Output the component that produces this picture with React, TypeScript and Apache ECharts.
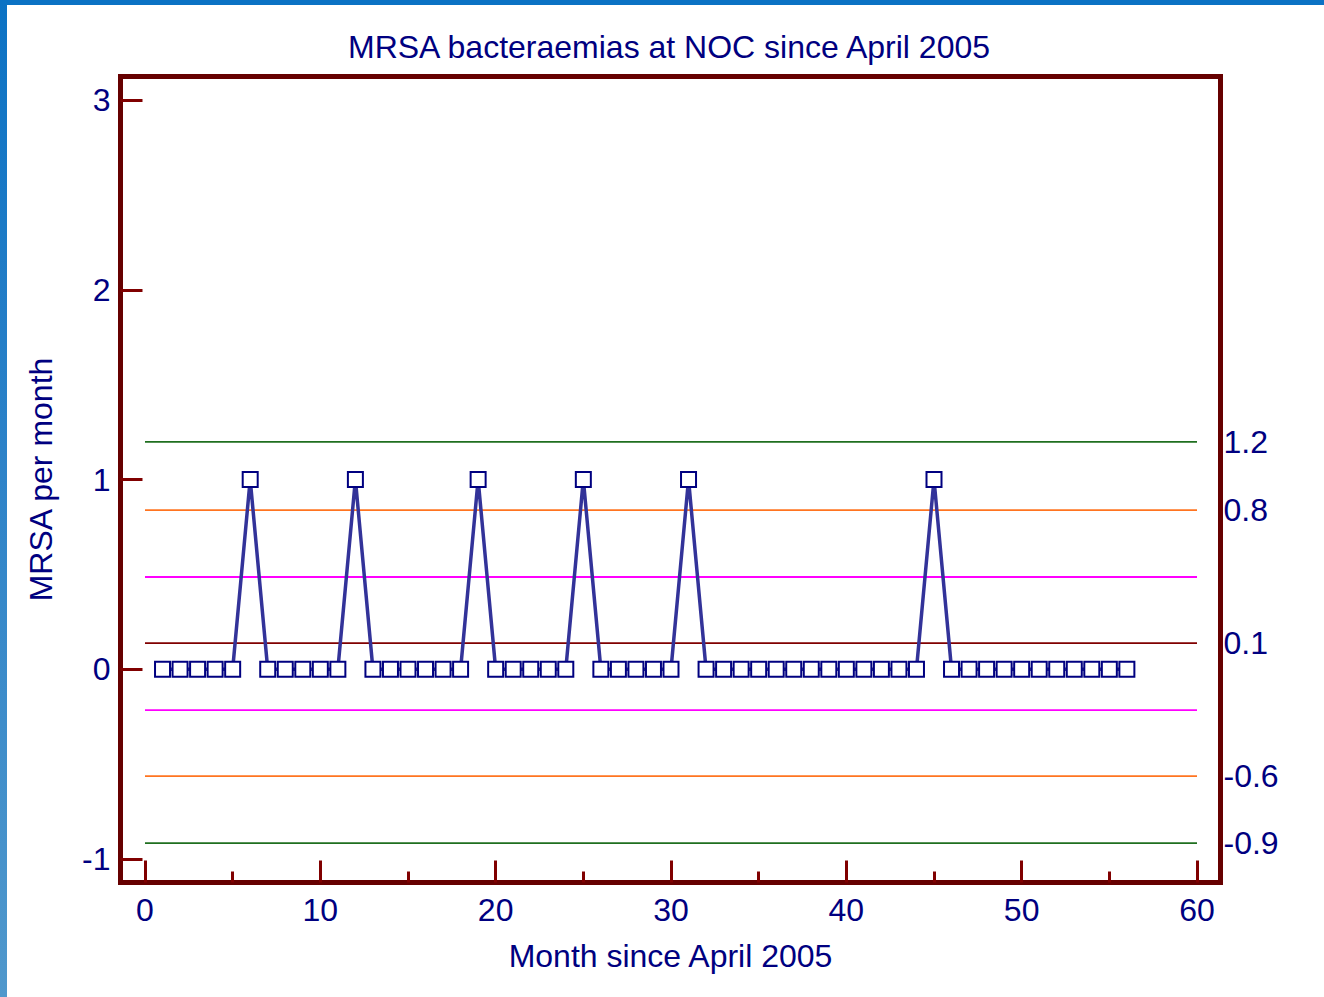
import React, { useEffect, useRef } from "react";
import * as echarts from "echarts";

const months = [
  1, 2, 3, 4, 5, 6, 7, 8, 9, 10, 11, 12, 13, 14, 15, 16, 17, 18, 19, 20,
  21, 22, 23, 24, 25, 26, 27, 28, 29, 30, 31, 32, 33, 34, 35, 36, 37, 38, 39, 40,
  41, 42, 43, 44, 45, 46, 47, 48, 49, 50, 51, 52, 53, 54, 55, 56,
];
const mrsaPerMonth = [
  0, 0, 0, 0, 0, 1, 0, 0, 0, 0, 0, 1, 0, 0, 0, 0, 0, 0, 1, 0,
  0, 0, 0, 0, 1, 0, 0, 0, 0, 0, 1, 0, 0, 0, 0, 0, 0, 0, 0, 0,
  0, 0, 0, 0, 1, 0, 0, 0, 0, 0, 0, 0, 0, 0, 0, 0,
];
const limitNames = ["UCL", "+2SD", "+1SD", "Mean", "-1SD", "-2SD", "LCL"];
const limitValues = [1.198, 0.839, 0.486, 0.138, -0.215, -0.563, -0.916];
const limitColors = ["#1f6f1f", "#ff7420", "#ff00ff", "#800000", "#ff00ff", "#ff7420", "#1f6f1f"];
const rightLabelValues = [1.198, 0.839, 0.138, -0.563, -0.916];
const xMajorTicks = [0, 10, 20, 30, 40, 50, 60];
const xMinorTicks = [5, 15, 25, 35, 45, 55];
const yTicks = [-1, 0, 1, 2, 3];
const limitSpan = [0, 60];

const TEXT = "#000080";
const FRAME = "#660000";
const TICK = "#800000";
const FONT = "'Liberation Sans', Arial, sans-serif";
const FS = 32;

export default function App() {
  const ref = useRef<HTMLDivElement>(null);
  useEffect(() => {
    document.body.style.margin = "0";
    if (!ref.current) return;
    const chart = echarts.init(ref.current, undefined, { renderer: "svg" });
    const xMin = -1.397;
    const xMax = 61.34;
    const yMin = -1.124;
    const yMax = 3.124;
    const limitSeries = limitValues.map((v, i) => ({
      name: limitNames[i],
      type: "line",
      xAxisIndex: 0,
      yAxisIndex: 0,
      data: limitSpan.map((x) => [x, v]),
      symbol: "none",
      lineStyle: { color: limitColors[i], width: 1.8 },
      z: 2,
      silent: true,
    }));
    chart.setOption({
      animation: false,
      backgroundColor: "transparent",
      textStyle: { fontFamily: FONT },
      title: {
        text: "MRSA bacteraemias at NOC since April 2005",
        left: 664,
        textAlign: "center",
        top: 26,
        textStyle: { color: TEXT, fontSize: FS, fontWeight: "normal", fontFamily: FONT },
      },
      grid: {
        left: 120.5,
        right: 103.5,
        top: 76.5,
        bottom: 114.5,
        show: true,
        borderColor: FRAME,
        borderWidth: 5,
        backgroundColor: "transparent",
        containLabel: false,
      },
      xAxis: [
        {
          type: "value",
          min: xMin,
          max: xMax,
          position: "bottom",
          name: "Month since April 2005",
          nameLocation: "middle",
          nameGap: 57,
          nameTextStyle: { color: TEXT, fontSize: FS, fontFamily: FONT },
          axisLine: { show: false, onZero: false },
          splitLine: { show: false },
          axisTick: {
            show: true,
            inside: true,
            length: 22,
            lineStyle: { color: TICK, width: 3 },
            customValues: xMajorTicks,
          },
          axisLabel: {
            color: TEXT,
            fontSize: FS,
            fontFamily: FONT,
            margin: 11,
            customValues: xMajorTicks,
          },
        },
        {
          type: "value",
          min: xMin,
          max: xMax,
          position: "bottom",
          offset: 0,
          axisLine: { show: false, onZero: false },
          splitLine: { show: false },
          axisLabel: { show: false },
          axisTick: {
            show: true,
            inside: true,
            length: 11,
            lineStyle: { color: TICK, width: 3 },
            customValues: xMinorTicks,
          },
        },
      ],
      yAxis: [
        {
          type: "value",
          min: yMin,
          max: yMax,
          position: "left",
          name: "MRSA per month",
          nameLocation: "middle",
          nameGap: 64,
          nameTextStyle: { color: TEXT, fontSize: FS, fontFamily: FONT },
          axisLine: { show: false, onZero: false },
          splitLine: { show: false },
          axisTick: {
            show: true,
            inside: true,
            length: 22,
            lineStyle: { color: TICK, width: 3 },
            customValues: yTicks,
          },
          axisLabel: {
            color: TEXT,
            fontSize: FS,
            fontFamily: FONT,
            margin: 10,
            customValues: yTicks,
          },
        },
        {
          type: "value",
          min: yMin,
          max: yMax,
          position: "right",
          axisLine: { show: false, onZero: false },
          splitLine: { show: false },
          axisTick: { show: false },
          axisLabel: {
            color: TEXT,
            fontSize: FS,
            fontFamily: FONT,
            margin: 3,
            customValues: rightLabelValues,
            formatter: (v: number) => v.toFixed(1),
          },
        },
      ],
      series: [
        ...limitSeries,
        {
          name: "MRSA per month",
          type: "line",
          xAxisIndex: 0,
          yAxisIndex: 0,
          data: months.map((m, i) => [m, mrsaPerMonth[i]]),
          symbol: "rect",
          symbolSize: 15,
          showAllSymbol: true,
          lineStyle: { color: "#333399", width: 3.5 },
          itemStyle: { color: "#ffffff", borderColor: "#000080", borderWidth: 2 },
          z: 5,
        },
      ],
    });
    return () => chart.dispose();
  }, []);

  return (
    <div
      style={{
        position: "absolute",
        left: 0,
        top: 0,
        width: 1324,
        height: 997,
        background: "#ffffff",
        overflow: "hidden",
      }}
    >
      <div
        style={{
          position: "absolute",
          left: 0,
          top: 0,
          width: 1324,
          height: 5,
          background: "#0b72c4",
        }}
      />
      <div
        style={{
          position: "absolute",
          left: 0,
          top: 0,
          width: 7,
          height: 997,
          background: "linear-gradient(to bottom, #0b72c4 0%, #2c82c8 45%, #5098cc 100%)",
        }}
      />
      <div ref={ref} style={{ position: "absolute", left: 0, top: 0, width: 1324, height: 997 }} />
    </div>
  );
}
